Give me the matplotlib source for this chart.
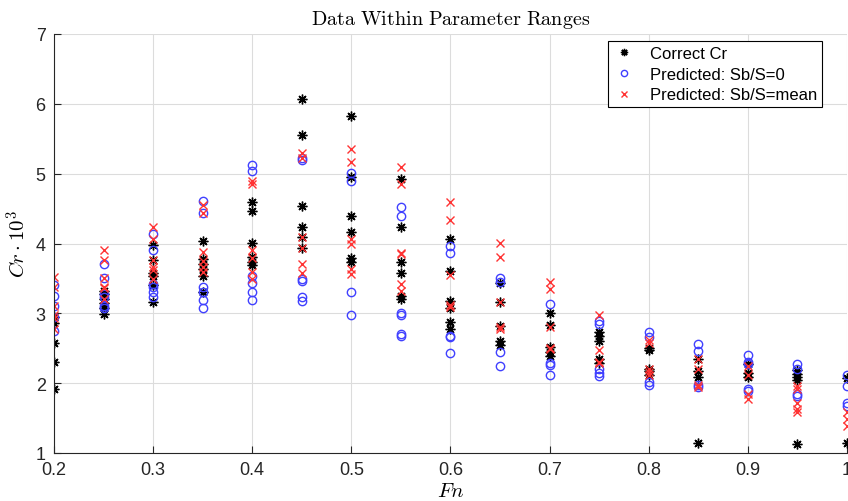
import numpy as np
import matplotlib
matplotlib.use('Agg')
import matplotlib.pyplot as plt

plt.rcParams['font.family'] = ['Liberation Sans', 'DejaVu Sans']
plt.rcParams['mathtext.fontset'] = 'cm'

# Froude numbers (one column of points each)
fn = [0.2, 0.25, 0.3, 0.35, 0.4, 0.45, 0.5, 0.55, 0.6,
      0.65, 0.7, 0.75, 0.8, 0.85, 0.9, 0.95, 1.0]

# Cr*10^3 values read per Fn column
correct_cr = [
    [1.92, 2.31, 2.57, 2.86, 2.95],
    [2.99, 3.07, 3.15, 3.20, 3.27, 3.32],
    [3.16, 3.40, 3.53, 3.58, 3.77, 3.98],
    [3.31, 3.54, 3.63, 3.70, 3.78, 4.03],
    [3.69, 3.73, 3.80, 4.01, 4.47, 4.60],
    [3.93, 4.10, 4.23, 4.54, 5.56, 6.07],
    [3.73, 3.79, 4.16, 4.40, 4.95, 5.82],
    [3.21, 3.25, 3.58, 3.73, 4.23, 4.92],
    [2.77, 2.88, 3.07, 3.17, 3.61, 4.07],
    [2.54, 2.61, 2.82, 3.16, 3.44],
    [2.39, 2.44, 2.52, 2.83, 3.01],
    [2.29, 2.35, 2.61, 2.67, 2.73],
    [2.11, 2.18, 2.21, 2.47, 2.50],
    [1.14, 2.09, 2.18, 2.35],
    [2.09, 2.14, 2.27],
    [1.13, 2.04, 2.09, 2.13, 2.19],
    [1.14, 2.08],
]

pred_sb0 = [
    [2.75, 2.95, 3.11, 3.25, 3.40],
    [3.07, 3.11, 3.23, 3.28, 3.51, 3.71],
    [3.23, 3.30, 3.37, 3.42, 3.91, 4.13],
    [3.08, 3.19, 3.30, 3.37, 4.43, 4.61],
    [3.19, 3.30, 3.43, 3.54, 5.04, 5.12],
    [3.18, 3.24, 3.47, 3.49, 5.20, 5.22],
    [2.98, 3.30, 4.90, 5.01],
    [2.68, 2.70, 2.97, 3.01, 4.39, 4.52],
    [2.43, 2.66, 2.68, 3.86, 3.97],
    [2.24, 2.45, 3.45, 3.50],
    [2.12, 2.26, 2.29, 3.13],
    [2.10, 2.14, 2.20, 2.85, 2.89],
    [1.98, 2.02, 2.66, 2.73],
    [1.94, 1.97, 2.46, 2.56],
    [1.89, 1.92, 2.27, 2.30, 2.41],
    [1.81, 1.84, 2.20, 2.27],
    [1.68, 1.72, 1.96, 2.12],
]

pred_sbmean = [
    [2.77, 2.94, 2.97, 3.11, 3.38, 3.52],
    [3.21, 3.36, 3.38, 3.51, 3.77, 3.91],
    [3.49, 3.62, 3.66, 3.77, 4.07, 4.23],
    [3.59, 3.67, 3.75, 3.88, 4.44, 4.55],
    [3.49, 3.59, 3.79, 3.91, 4.85, 4.90],
    [3.58, 3.70, 3.93, 4.09, 5.23, 5.29],
    [3.56, 3.63, 3.99, 4.06, 5.17, 5.35],
    [3.32, 3.42, 3.85, 3.87, 4.85, 5.10],
    [3.09, 3.12, 3.55, 4.34, 4.59],
    [2.77, 2.81, 3.16, 3.81, 4.01],
    [2.49, 2.51, 2.81, 3.35, 3.45],
    [2.29, 2.31, 2.48, 2.97],
    [2.12, 2.16, 2.20, 2.57, 2.62],
    [1.95, 1.97, 2.20, 2.35],
    [1.78, 1.84, 2.12, 2.25],
    [1.58, 1.63, 1.72, 1.91, 1.96],
    [1.38, 1.48, 1.58],
]


def flat(groups):
    x = np.repeat(fn, [len(g) for g in groups])
    y = np.concatenate([np.array(g) for g in groups])
    return x, y


fig = plt.figure(figsize=(8.48, 5.02), dpi=100)
ax = fig.add_axes([54/848, 48/502, 793/848, 419/502])

x, y = flat(correct_cr)
ax.plot(x, y, ls='none', marker=(8, 2, 0), ms=7, mew=1.0, color='k', label='Correct Cr')
x, y = flat(pred_sb0)
ax.plot(x, y, ls='none', marker='o', ms=6, mew=1.0, mfc='none', mec=(0.25, 0.25, 1.0),
        label='Predicted: Sb/S=0')
x, y = flat(pred_sbmean)
ax.plot(x, y, ls='none', marker='x', ms=5.5, mew=1.0, color=(1.0, 0.2, 0.2),
        label='Predicted: Sb/S=mean')

ax.set_xlim(0.2, 1.0)
ax.set_ylim(1, 7)
ax.set_xticks(np.arange(0.2, 1.01, 0.1))
ax.set_xticklabels(['0.2', '0.3', '0.4', '0.5', '0.6', '0.7', '0.8', '0.9', '1'])
ax.set_yticks(range(1, 8))
ax.grid(True, color='#dcdcdc', lw=0.8)
ax.set_axisbelow(True)
ax.spines['top'].set_visible(False)
ax.spines['right'].set_visible(False)
ax.spines['left'].set_color('#262626')
ax.spines['bottom'].set_color('#262626')
ax.tick_params(direction='in', length=5, labelsize=13, colors='#262626', pad=6)

ax.set_title(r'$\mathrm{Data\ Within\ Parameter\ Ranges}$', fontsize=14.5, pad=7)
ax.set_xlabel(r'$Fn$', fontsize=15, labelpad=2)
ax.set_ylabel(r'$Cr \cdot 10^3$', fontsize=15, labelpad=4)

leg = ax.legend(loc='upper right', bbox_to_anchor=(0.968, 0.983), borderaxespad=0,
                fontsize=12, fancybox=False, framealpha=1, edgecolor='k',
                handletextpad=0.9, borderpad=0.28, labelspacing=0.35,
                handlelength=1.3, markerscale=0.75)
leg.get_frame().set_linewidth(0.8)

fig.savefig('out.png', dpi=100)
